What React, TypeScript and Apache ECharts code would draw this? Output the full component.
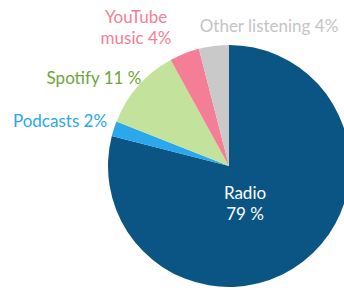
import React, { useEffect, useRef } from "react";
import * as echarts from "echarts";

const categories = ["Radio", "Podcasts", "Spotify", "YouTube music", "Other listening"];
const values = [79, 2, 11, 4, 4];
const labelTexts = ["Radio\n79 %", "Podcasts 2%", "Spotify 11 %", "YouTube\nmusic 4%", "Other listening 4%"];
const colors = ["#0b5585", "#2ba7ec", "#c3e29b", "#f47e95", "#c9c9c9"];
const labelColors = ["#ffffff", "#2ba7ec", "#6ea53a", "#f47e95", "#c4c4c4"];
const labelPos: [number, number, string][] = [
  [245, 203, "center"],
  [60, 120, "center"],
  [94, 77, "center"],
  [136, 27, "center"],
  [269, 25, "center"],
];

export default function App() {
  const ref = useRef<HTMLDivElement>(null);
  useEffect(() => {
    if (!ref.current) return;
    const chart = echarts.init(ref.current, null, { renderer: "svg" });
    chart.setOption({
      animation: false,
      backgroundColor: "#ffffff",
      series: [
        {
          type: "pie",
          center: [229, 166],
          radius: [0, 121],
          startAngle: 90,
          clockwise: true,
          avoidLabelOverlap: false,
          labelLine: { show: false },
          itemStyle: { borderWidth: 0 },
          label: {
            show: true,
            position: "inside",
            fontFamily: "Lato",
            fontSize: 17,
            lineHeight: 21,
            formatter: (p: any) => labelTexts[p.dataIndex],
          },
          labelLayout: (p: any) => ({
            x: labelPos[p.dataIndex][0],
            y: labelPos[p.dataIndex][1],
            align: labelPos[p.dataIndex][2],
            verticalAlign: "middle",
          }),
          data: categories.map((c, i) => ({
            name: c,
            value: values[i],
            itemStyle: { color: colors[i] },
            label: { color: labelColors[i] },
          })),
        },
      ],
    });
    return () => chart.dispose();
  }, []);
  return (
    <div
      ref={ref}
      style={{ position: "fixed", left: 0, top: 0, width: 344, height: 290 }}
    />
  );
}
